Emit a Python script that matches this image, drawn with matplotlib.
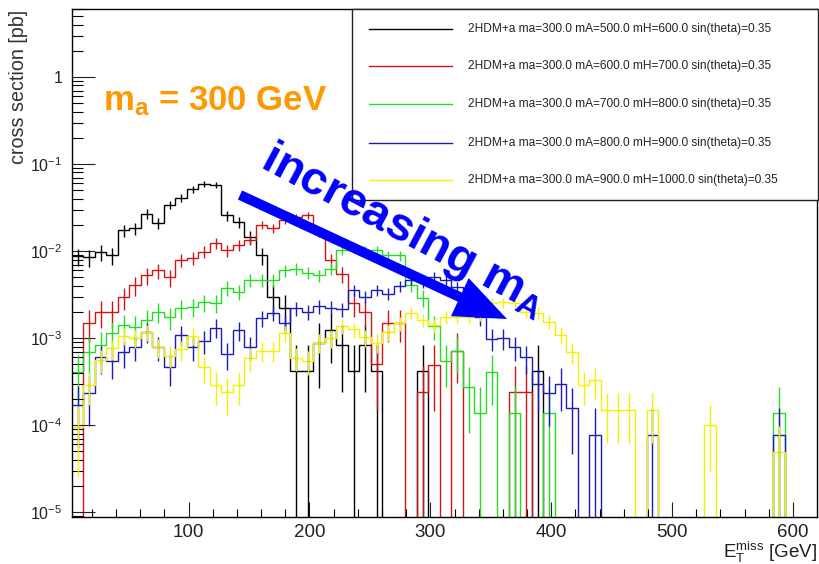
import numpy as np
import matplotlib
matplotlib.use("Agg")
import matplotlib.pyplot as plt
from matplotlib.patches import FancyArrow, Rectangle
from matplotlib.lines import Line2D
from matplotlib.transforms import IdentityTransform
from matplotlib.ticker import FixedLocator, FixedFormatter, MultipleLocator, NullFormatter

plt.rcParams['font.family'] = ['Liberation Sans', 'DejaVu Sans']
plt.rcParams['mathtext.fontset'] = 'custom'
plt.rcParams['mathtext.rm'] = 'Liberation Sans'
plt.rcParams['mathtext.it'] = 'Liberation Sans:italic'
plt.rcParams['mathtext.bf'] = 'Liberation Sans:bold'

# ---------------- data ----------------
x_start = 3.54
bin_width = 9.51
n_bins = 65
bin_edges = x_start + bin_width * np.arange(n_bins + 1)

labels = [
    "2HDM+a ma=300.0 mA=500.0 mH=600.0 sin(theta)=0.35",
    "2HDM+a ma=300.0 mA=600.0 mH=700.0 sin(theta)=0.35",
    "2HDM+a ma=300.0 mA=700.0 mH=800.0 sin(theta)=0.35",
    "2HDM+a ma=300.0 mA=800.0 mH=900.0 sin(theta)=0.35",
    "2HDM+a ma=300.0 mA=900.0 mH=1000.0 sin(theta)=0.35",
]

xs_mA500 = [8.7e-3, 8.5e-3, 9.8e-3, 8.9e-3, 1.74e-2, 1.82e-2, 2.69e-2, 2.09e-2, 3.39e-2, 4.07e-2,
            5.13e-2, 5.89e-2, 5.75e-2, 2.57e-2, 2.14e-2, 1.45e-2, 8.9e-3, 2.95e-3, 2.19e-3, 4.2e-4,
            4.2e-4, 8.7e-4, 1.23e-3, 8.3e-4, 4.2e-4, 8.3e-4, 4.2e-4, 0, 0, 0,
            4.2e-4, 0, 0, 0, 0, 0, 0, 0, 0, 0,
            4.2e-4, 0, 0, 0, 0, 0, 0, 0, 0, 0,
            0, 0, 0, 0, 0, 0, 0, 0, 0, 0,
            0, 0, 0, 0, 0]

xs_mA600 = [0, 1.51e-3, 2.0e-3, 2.0e-3, 2.95e-3, 4.07e-3, 5.25e-3, 6.0e-3, 5.0e-3, 7.9e-3,
            8.3e-3, 9.8e-3, 1.23e-2, 1.02e-2, 1.17e-2, 1.35e-2, 2.0e-2, 1.82e-2, 2.29e-2, 2.45e-2,
            2.57e-2, 1.66e-2, 7.8e-3, 5.5e-3, 2.5e-3, 2.0e-3, 5.0e-4, 1.5e-3, 1.5e-3, 0,
            2.4e-4, 4.9e-4, 0, 7.2e-4, 0, 0, 0, 0, 2.4e-4, 2.4e-4,
            0, 0, 0, 0, 0, 0, 0, 0, 0, 0,
            0, 0, 0, 0, 0, 0, 0, 0, 0, 0,
            0, 0, 0, 0, 0]

xs_mA700 = [4.1e-4, 6.9e-4, 8.3e-4, 1.15e-3, 1.41e-3, 1.35e-3, 1.62e-3, 2.0e-3, 1.74e-3, 2.19e-3,
            2.29e-3, 2.57e-3, 2.51e-3, 3.8e-3, 3.39e-3, 4.68e-3, 4.68e-3, 4.68e-3, 6.0e-3, 6.3e-3,
            5.6e-3, 5.25e-3, 6.3e-3, 1.02e-2, 1.07e-2, 1.02e-2, 1.02e-2, 8.9e-3, 8.9e-3, 4.1e-3,
            2.9e-3, 1.38e-3, 5.5e-4, 7.1e-4, 2.75e-4, 1.38e-4, 4.1e-4, 0, 1.38e-4, 0,
            0, 1.38e-4, 0, 0, 0, 0, 0, 0, 0, 0,
            0, 0, 0, 0, 0, 0, 0, 0, 0, 0,
            0, 1.38e-4, 0, 0, 0]

xs_mA800 = [1.7e-4, 2.34e-4, 6.0e-4, 5.5e-4, 6.9e-4, 7.9e-4, 1.17e-3, 7.9e-4, 4.7e-4, 1.10e-3,
            7.9e-4, 9.3e-4, 1.32e-3, 6.6e-4, 1.23e-3, 7.9e-4, 1.70e-3, 1.95e-3, 1.48e-3, 2.19e-3,
            2.0e-3, 2.34e-3, 2.24e-3, 2.14e-3, 3.55e-3, 3.0e-3, 3.55e-3, 3.24e-3, 3.98e-3, 4.68e-3,
            4.37e-3, 5.1e-3, 4.68e-3, 3.9e-3, 3.55e-3, 1.74e-3, 9.8e-4, 1.0e-3, 7.9e-4, 6.0e-4,
            3.0e-4, 2.34e-4, 3.0e-4, 1.58e-4, 0, 7.8e-5, 0, 0, 0, 0,
            7.8e-5, 0, 0, 0, 0, 0, 0, 0, 0, 0,
            0, 7.8e-5, 0, 0, 0]

xs_mA900 = [9.5e-5, 2.9e-4, 5.6e-4, 7.6e-4, 1.07e-3, 1.0e-3, 1.17e-3, 7.9e-4, 6.3e-4, 7.4e-4,
            1.07e-3, 4.6e-4, 2.9e-4, 2.4e-4, 2.9e-4, 5.9e-4, 7.2e-4, 7.2e-4, 1.15e-3, 5.9e-4,
            5.4e-4, 8.9e-4, 1.0e-3, 1.38e-3, 1.26e-3, 1.02e-3, 8.9e-4, 1.17e-3, 1.48e-3, 1.95e-3,
            1.62e-3, 1.41e-3, 1.74e-3, 1.74e-3, 1.74e-3, 1.86e-3, 2.51e-3, 2.57e-3, 2.51e-3, 2.0e-3,
            1.95e-3, 1.55e-3, 1.10e-3, 6.9e-4, 2.9e-4, 3.3e-4, 1.48e-4, 1.48e-4, 1.48e-4, 0,
            1.48e-4, 0, 0, 0, 0, 1.0e-4, 0, 0, 0, 0,
            0, 4.9e-5, 0, 0, 0]

# approximate cross section carried by one MC event in each sample (sets error bar size)
event_weight = [4.2e-4, 2.4e-4, 1.38e-4, 7.8e-5, 5.0e-5]

series = [xs_mA500, xs_mA600, xs_mA700, xs_mA800, xs_mA900]
colors = ['#000000', '#D01515', '#22DD22', '#1C1CB4', '#F2F200']

y_tick_values = [1e-5, 1e-4, 1e-3, 1e-2, 1e-1, 1]
y_tick_labels = [r'$10^{-5}$', r'$10^{-4}$', r'$10^{-3}$', r'$10^{-2}$', r'$10^{-1}$', '1']
x_tick_values = [100, 200, 300, 400, 500, 600]

# ---------------- figure ----------------
W, H = 819, 564
fig = plt.figure(figsize=(W / 100, H / 100), dpi=100)
ax = fig.add_axes([72 / W, (H - 517) / H, (817 - 72) / W, (517 - 9) / H])

def fx(x):
    return x / W

def fy(y):
    return 1 - y / H

tiny = 1e-12
centers = 0.5 * (bin_edges[:-1] + bin_edges[1:])
for vals, w, c in zip(series, event_weight, colors):
    v = np.array(vals, dtype=float)
    ax.stairs(np.where(v > 0, v, tiny), bin_edges, baseline=None, color=c, lw=1.0)
    err = np.sqrt(v * w)
    m = v > 0
    lo = np.maximum(v - err, tiny)
    ax.vlines(centers[m], lo[m], (v + err)[m], color=c, lw=1.0)

ax.set_yscale('log')
ax.set_xlim(3.54, 619.9)
ax.set_ylim(8.8e-6, 6.05)

ax.yaxis.set_major_locator(FixedLocator(y_tick_values))
ax.yaxis.set_major_formatter(FixedFormatter(y_tick_labels))
minor_y = [m * 10.0 ** e for e in range(-6, 1) for m in range(2, 10)]
ax.yaxis.set_minor_locator(FixedLocator(minor_y))
ax.yaxis.set_minor_formatter(NullFormatter())
ax.xaxis.set_major_locator(FixedLocator(x_tick_values))
ax.xaxis.set_minor_locator(MultipleLocator(20))

ax.tick_params(axis='y', which='major', direction='in', length=16.5, width=0.8,
               labelsize=11.5, pad=7, right=False, colors='#222222')
ax.tick_params(axis='y', which='minor', direction='in', length=8, width=0.8, right=False)
ax.tick_params(axis='x', which='major', direction='in', length=11, width=0.8,
               labelsize=13.5, pad=5, top=False, colors='#222222')
ax.tick_params(axis='x', which='minor', direction='in', length=5.5, width=0.8, top=False)
for s in ax.spines.values():
    s.set_linewidth(1.0)

# legend box
fig.add_artist(Rectangle((fx(352), fy(200)), fx(818) - fx(352), fy(9) - fy(200),
                         transform=fig.transFigure, facecolor='white', edgecolor='#222222',
                         lw=1.0, zorder=5))
rows = [29, 66, 104, 143, 180]
for lab, c, yr in zip(labels, colors, rows):
    fig.add_artist(Line2D([fx(369), fx(452)], [fy(yr), fy(yr)], transform=fig.transFigure,
                          color=c, lw=1.0, zorder=6))
    fig.text(fx(468), fy(yr), lab, fontsize=8.6, va='center', ha='left', color='#222222', zorder=6)

# annotations
fig.text(fx(103), fy(110), r'$\mathbf{m}_{\mathbf{a}}$ = 300 GeV', fontsize=25,
         fontweight='bold', color='#FF9900', va='baseline', ha='left', zorder=7)

fig.add_artist(FancyArrow(240, H - 195, 267, -124, width=10, head_width=42, head_length=52,
                          length_includes_head=True, color='#0000FF', lw=0,
                          transform=IdentityTransform(), zorder=7))
fig.text(fx(259), fy(166), r'increasing $\mathbf{m}_{\mathbf{A}}$', fontsize=34,
         fontweight='bold', color='#0000FF', rotation=-28, rotation_mode='anchor',
         ha='left', va='baseline', zorder=8)

# axis titles
fig.text(fx(19), fy(10), 'cross section [pb]', rotation=90, ha='center', va='top',
         fontsize=14.2, color='#333333')
fig.text(fx(817), fy(558), r'$\mathrm{E}_{\mathrm{T}}^{\mathrm{miss}}$ [GeV]', ha='right',
         va='baseline', fontsize=13.5, color='#222222')

fig.savefig('out.png', dpi=100)
